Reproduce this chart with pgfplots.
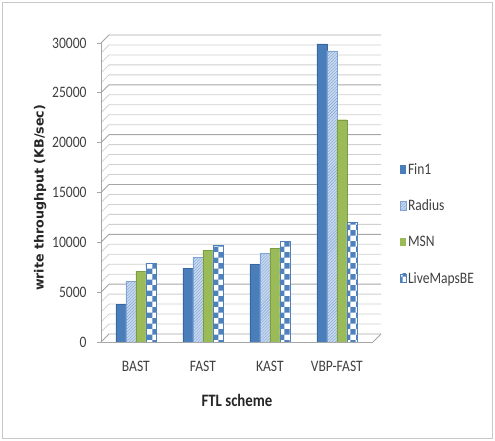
\documentclass[border=0pt]{standalone}
\usepackage{fontspec}
\setmainfont{Carlito}[FakeStretch=0.85]
\newfontfamily\ylabelfont{DejaVu Sans}
\usepackage{pgfplots}
\pgfplotsset{compat=1.18}
\usetikzlibrary{patterns}

\definecolor{finblue}{HTML}{4A7EBB}
\definecolor{finedge}{HTML}{3A66A0}
\definecolor{radbg}{HTML}{C9DAF0}
\definecolor{radline}{HTML}{7EA3D4}
\definecolor{msngreen}{HTML}{9BBB59}
\definecolor{msnedge}{HTML}{7E9C44}
\definecolor{liveblue}{HTML}{4F81BD}
\definecolor{gridmajor}{HTML}{A6A6A6}
\definecolor{gridminor}{HTML}{D0D0D0}
\definecolor{labelgray}{HTML}{404040}
\definecolor{framegray}{HTML}{C8C8C8}

% write throughput per FTL scheme (KB/sec)
\pgfplotstableread{
x  fin1  radius  msn    live
0  3800  6100    7100   7900
1  7400  8500    9200   9700
2  7800  8900    9400   10100
3  29900 29200   22300  12000
}\throughput

\begin{document}
\begin{tikzpicture}
\begin{axis}[
  at={(0,0)}, anchor=south west,
  scale only axis, width=272bp, height=299bp,
  set layers=standard,
  ybar=0pt, bar width=10bp,
  xmin=-0.52, xmax=3.54,
  ymin=0, ymax=30000,
  xtick={0,1,2,3},
  xticklabels={BAST,FAST,KAST,VBP-FAST},
  ytick={0,5000,...,30000},
  scaled y ticks=false,
  yticklabel style={/pgf/number format/fixed, /pgf/number format/1000 sep={}},
  /pgf/number format/assume math mode=true,
  axis x line*=bottom, axis y line*=left,
  axis line style={gridmajor, line width=0.8bp, -},
  xtick style={draw=none},
  ytick style={gridmajor, line width=0.8bp},
  tick align=outside, major tick length=4bp,
  ticklabel style={font=\fontsize{16}{18}\selectfont, text=labelgray},
  xticklabel style={yshift=-12bp},
  yticklabel style={xshift=-7bp},
  xlabel={FTL scheme},
  ylabel={write throughput (KB/sec)},
  every axis x label/.style={at={(axis description cs:0.5,-0.197)}, anchor=center,
    font=\fontsize{17.5}{20}\selectfont\bfseries, text=black!85},
  every axis y label/.style={at={(axis description cs:-0.224,0.482)}, anchor=center, rotate=90,
    font=\ylabelfont\fontsize{12.7}{15}\selectfont\bfseries, text=black!85},
  legend style={at={(1.099,0.605)}, anchor=north west, draw=none, fill=none,
    font=\fontsize{16}{18}\selectfont, text=labelgray, row sep=20bp, inner sep=0pt},
  legend cell align=left,
  legend image code/.code={\path[#1, draw=none] (0bp,-4bp) rectangle (5.5bp,4.5bp);},
]
% back-wall gridlines with the short receding segment at the left wall
\begin{pgfonlayer}{axis grid}
\pgfplotsinvokeforeach{1000,2000,3000,4000,6000,7000,8000,9000,11000,12000,13000,14000,16000,17000,18000,19000,21000,22000,23000,24000,26000,27000,28000,29000}{
  \draw[gridminor, line width=0.8bp] (axis cs:-0.52,#1) -- ++(8bp,8bp) -- ([shift={(8bp,8bp)}]axis cs:3.54,#1);
}
\pgfplotsinvokeforeach{0,5000,10000,15000,20000,25000,30000}{
  \draw[gridmajor, line width=0.9bp] (axis cs:-0.52,#1) -- ++(8bp,8bp) -- ([shift={(8bp,8bp)}]axis cs:3.54,#1);
}
\draw[gridmajor, line width=0.9bp] (axis cs:3.54,0) -- ++(8bp,8bp);
\end{pgfonlayer}

\addplot[fill=finblue, draw=finedge, line width=0.4bp] table[x=x, y=fin1] {\throughput};
\addplot[fill=radbg, draw=radline, line width=0.4bp,
  postaction={pattern=north east lines, pattern color=radline}] table[x=x, y=radius] {\throughput};
\addplot[fill=msngreen, draw=msnedge, line width=0.4bp] table[x=x, y=msn] {\throughput};
\addplot[fill=white, draw=liveblue, line width=0.4bp,
  postaction={pattern=checkerboard, pattern color=liveblue}] table[x=x, y=live] {\throughput};
\legend{Fin1,Radius,MSN,LiveMapsBE}
\end{axis}
% chart frame
\draw[framegray, line width=1bp] (-98bp,-96bp) rectangle (391bp,339bp);
\pgfresetboundingbox
\path[use as bounding box] (-101bp,-99bp) rectangle (394bp,342bp);
\end{tikzpicture}
\end{document}
